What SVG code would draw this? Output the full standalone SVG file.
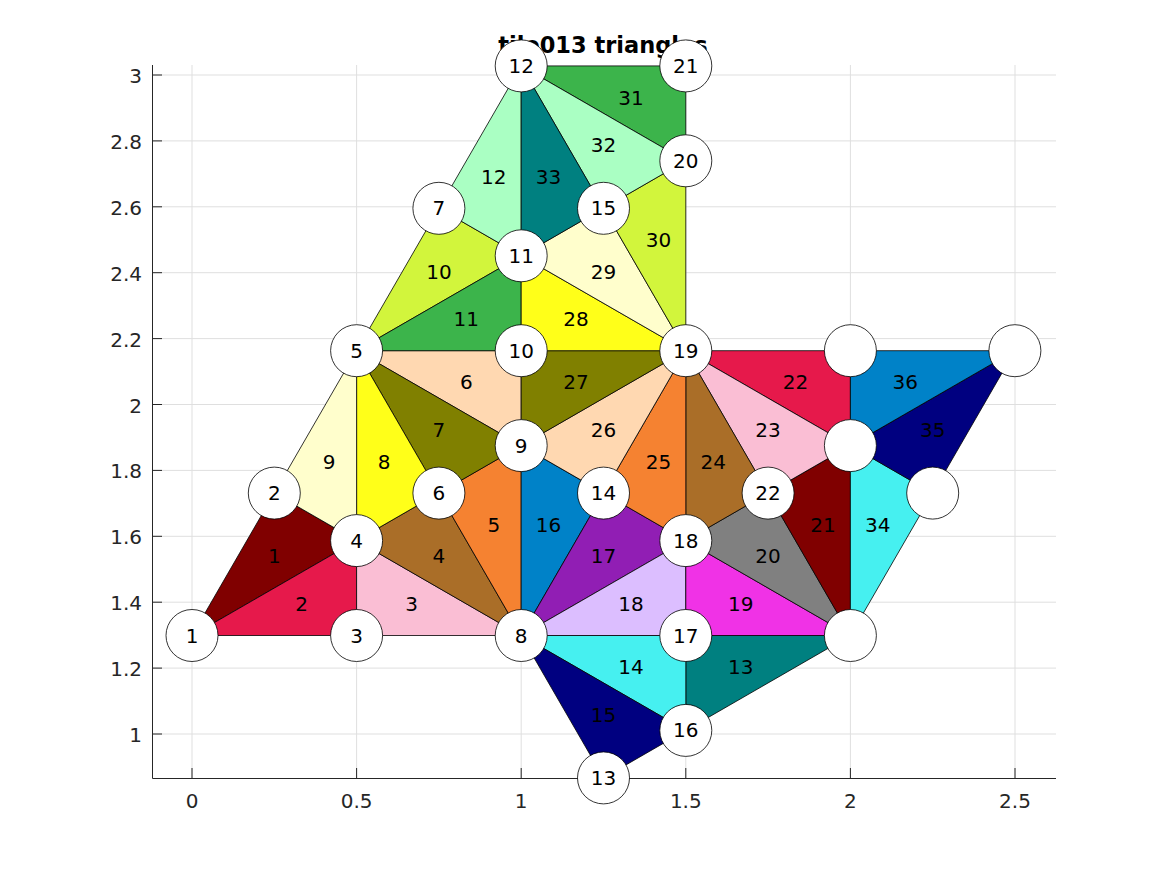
<svg xmlns="http://www.w3.org/2000/svg" width="1167" height="875" viewBox="0 0 1167 875">
<style>
.grid{stroke:#dfdfdf;stroke-width:1;fill:none}
.axis{stroke:#262626;stroke-width:1;fill:none}
.tk{font-family:"DejaVu Sans",sans-serif;font-size:20px;fill:#262626}
.tri{stroke:#000;stroke-width:0.8;stroke-linejoin:round}
.tl{font-family:"DejaVu Sans",sans-serif;font-size:20px;fill:#000;text-anchor:middle}
.node circle{fill:#fff;stroke:#000;stroke-width:0.8}
.node text{font-family:"DejaVu Sans",sans-serif;font-size:20px;fill:#000;text-anchor:middle}
.title{font-family:"DejaVu Sans",sans-serif;font-size:22.5px;font-weight:bold;fill:#000;text-anchor:middle}
</style>
<rect width="1167" height="875" fill="#fff"/>
<g id="grid">
<path class="grid" d="M192,65V778M356.6,65V778M521.2,65V778M685.8,65V778M850.4,65V778M1015,65V778"/>
<path class="grid" d="M152,75H1056M152,140.9H1056M152,206.8H1056M152,272.7H1056M152,338.6H1056M152,404.5H1056M152,470.4H1056M152,536.3H1056M152,602.2H1056M152,668.1H1056M152,734H1056"/>
</g>
<g id="axes">
<path class="axis" d="M152.5,65V778.5H1056"/>
<path class="axis" d="M192,778V768M356.6,778V768M521.2,778V768M685.8,778V768M850.4,778V768M1015,778V768"/>
<path class="axis" d="M152,75H162M152,140.9H162M152,206.8H162M152,272.7H162M152,338.6H162M152,404.5H162M152,470.4H162M152,536.3H162M152,602.2H162M152,668.1H162M152,734H162"/>
<g class="tk" text-anchor="middle">
<text x="192" y="808">0</text><text x="356.6" y="808">0.5</text><text x="521.2" y="808">1</text><text x="685.8" y="808">1.5</text><text x="850.4" y="808">2</text><text x="1015" y="808">2.5</text>
</g>
<g class="tk" text-anchor="end">
<text x="142" y="83">3</text><text x="142" y="148.9">2.8</text><text x="142" y="214.8">2.6</text><text x="142" y="280.7">2.4</text><text x="142" y="346.6">2.2</text><text x="142" y="412.5">2</text><text x="142" y="478.4">1.8</text><text x="142" y="544.3">1.6</text><text x="142" y="610.2">1.4</text><text x="142" y="676.1">1.2</text><text x="142" y="742">1</text>
</g>
</g>
<g id="triangles">
<polygon class="tri" fill="#800000" points="192,635.5 274.3,493.1 356.6,540.6"/>
<polygon class="tri" fill="#E6194B" points="192,635.5 356.6,540.6 356.6,635.5"/>
<polygon class="tri" fill="#FABED4" points="356.6,635.5 356.6,540.6 521.2,635.5"/>
<polygon class="tri" fill="#AA6E28" points="356.6,540.6 438.9,493.1 521.2,635.5"/>
<polygon class="tri" fill="#F58231" points="438.9,493.1 521.2,445.6 521.2,635.5"/>
<polygon class="tri" fill="#FFD8B1" points="356.6,350.7 521.2,350.7 521.2,445.6"/>
<polygon class="tri" fill="#808000" points="356.6,350.7 521.2,445.6 438.9,493.1"/>
<polygon class="tri" fill="#FFFF19" points="356.6,350.7 438.9,493.1 356.6,540.6"/>
<polygon class="tri" fill="#FFFECC" points="274.3,493.1 356.6,350.7 356.6,540.6"/>
<polygon class="tri" fill="#D2F53C" points="356.6,350.7 438.9,208.3 521.2,255.8"/>
<polygon class="tri" fill="#3CB44B" points="356.6,350.7 521.2,255.8 521.2,350.7"/>
<polygon class="tri" fill="#AAFFC3" points="438.9,208.3 521.2,65.9 521.2,255.8"/>
<polygon class="tri" fill="#008080" points="685.8,635.5 850.4,635.5 685.8,730.4"/>
<polygon class="tri" fill="#46F0F0" points="521.2,635.5 685.8,635.5 685.8,730.4"/>
<polygon class="tri" fill="#000080" points="521.2,635.5 685.8,730.4 603.5,777.9"/>
<polygon class="tri" fill="#0082C8" points="521.2,635.5 521.2,445.6 603.5,493.1"/>
<polygon class="tri" fill="#911EB4" points="521.2,635.5 603.5,493.1 685.8,540.6"/>
<polygon class="tri" fill="#DCBEFF" points="521.2,635.5 685.8,540.6 685.8,635.5"/>
<polygon class="tri" fill="#F032E6" points="685.8,635.5 685.8,540.6 850.4,635.5"/>
<polygon class="tri" fill="#808080" points="685.8,540.6 768.1,493.1 850.4,635.5"/>
<polygon class="tri" fill="#800000" points="768.1,493.1 850.4,445.6 850.4,635.5"/>
<polygon class="tri" fill="#E6194B" points="685.8,350.7 850.4,350.7 850.4,445.6"/>
<polygon class="tri" fill="#FABED4" points="685.8,350.7 850.4,445.6 768.1,493.1"/>
<polygon class="tri" fill="#AA6E28" points="685.8,350.7 768.1,493.1 685.8,540.6"/>
<polygon class="tri" fill="#F58231" points="685.8,350.7 685.8,540.6 603.5,493.1"/>
<polygon class="tri" fill="#FFD8B1" points="521.2,445.6 685.8,350.7 603.5,493.1"/>
<polygon class="tri" fill="#808000" points="521.2,350.7 685.8,350.7 521.2,445.6"/>
<polygon class="tri" fill="#FFFF19" points="521.2,350.7 521.2,255.8 685.8,350.7"/>
<polygon class="tri" fill="#FFFECC" points="521.2,255.8 603.5,208.3 685.8,350.7"/>
<polygon class="tri" fill="#D2F53C" points="603.5,208.3 685.8,160.8 685.8,350.7"/>
<polygon class="tri" fill="#3CB44B" points="521.2,65.9 685.8,65.9 685.8,160.8"/>
<polygon class="tri" fill="#AAFFC3" points="521.2,65.9 685.8,160.8 603.5,208.3"/>
<polygon class="tri" fill="#008080" points="521.2,65.9 603.5,208.3 521.2,255.8"/>
<polygon class="tri" fill="#46F0F0" points="850.4,445.6 932.7,493.1 850.4,635.5"/>
<polygon class="tri" fill="#000080" points="850.4,445.6 1014.9,350.7 932.7,493.1"/>
<polygon class="tri" fill="#0082C8" points="850.4,350.7 1014.9,350.7 850.4,445.6"/>
</g>
<g id="triangle-labels" class="tl">
<text x="274.3" y="563.4">1</text>
<text x="301.7" y="610.9">2</text>
<text x="411.5" y="610.9">3</text>
<text x="438.9" y="563.4">4</text>
<text x="493.8" y="531.7">5</text>
<text x="466.3" y="389.3">6</text>
<text x="438.9" y="436.8">7</text>
<text x="384" y="468.5">8</text>
<text x="329.2" y="468.5">9</text>
<text x="438.9" y="278.6">10</text>
<text x="466.3" y="326.1">11</text>
<text x="493.8" y="183.7">12</text>
<text x="740.7" y="674.1">13</text>
<text x="630.9" y="674.1">14</text>
<text x="603.5" y="721.6">15</text>
<text x="548.6" y="531.7">16</text>
<text x="603.5" y="563.4">17</text>
<text x="630.9" y="610.9">18</text>
<text x="740.7" y="610.9">19</text>
<text x="768.1" y="563.4">20</text>
<text x="823" y="531.7">21</text>
<text x="795.5" y="389.3">22</text>
<text x="768.1" y="436.8">23</text>
<text x="713.2" y="468.5">24</text>
<text x="658.4" y="468.5">25</text>
<text x="603.5" y="436.8">26</text>
<text x="576.1" y="389.3">27</text>
<text x="576.1" y="326.1">28</text>
<text x="603.5" y="278.6">29</text>
<text x="658.4" y="246.9">30</text>
<text x="631" y="104.5">31</text>
<text x="603.5" y="152">32</text>
<text x="548.6" y="183.7">33</text>
<text x="877.8" y="531.7">34</text>
<text x="932.7" y="436.8">35</text>
<text x="905.2" y="389.3">36</text>
</g>
<text class="title" x="603" y="53">tile013 triangles</text>
<g id="nodes">
<g id="n1" class="node"><circle cx="192" cy="635.5" r="26"/><text x="192" y="642.5">1</text></g>
<g id="n2" class="node"><circle cx="274.3" cy="493.1" r="26"/><text x="274.3" y="500.1">2</text></g>
<g id="n3" class="node"><circle cx="356.6" cy="635.5" r="26"/><text x="356.6" y="642.5">3</text></g>
<g id="n4" class="node"><circle cx="356.6" cy="540.6" r="26"/><text x="356.6" y="547.6">4</text></g>
<g id="n5" class="node"><circle cx="356.6" cy="350.7" r="26"/><text x="356.6" y="357.7">5</text></g>
<g id="n6" class="node"><circle cx="438.9" cy="493.1" r="26"/><text x="438.9" y="500.1">6</text></g>
<g id="n7" class="node"><circle cx="438.9" cy="208.3" r="26"/><text x="438.9" y="215.3">7</text></g>
<g id="n8" class="node"><circle cx="521.2" cy="635.5" r="26"/><text x="521.2" y="642.5">8</text></g>
<g id="n9" class="node"><circle cx="521.2" cy="445.6" r="26"/><text x="521.2" y="452.6">9</text></g>
<g id="n10" class="node"><circle cx="521.2" cy="350.7" r="26"/><text x="521.2" y="357.7">10</text></g>
<g id="n11" class="node"><circle cx="521.2" cy="255.8" r="26"/><text x="521.2" y="262.8">11</text></g>
<g id="n12" class="node"><circle cx="521.2" cy="65.9" r="26"/><text x="521.2" y="72.9">12</text></g>
<g id="n13" class="node"><circle cx="603.5" cy="777.9" r="26"/><text x="603.5" y="784.9">13</text></g>
<g id="n14" class="node"><circle cx="603.5" cy="493.1" r="26"/><text x="603.5" y="500.1">14</text></g>
<g id="n15" class="node"><circle cx="603.5" cy="208.3" r="26"/><text x="603.5" y="215.3">15</text></g>
<g id="n16" class="node"><circle cx="685.8" cy="730.4" r="26"/><text x="685.8" y="737.4">16</text></g>
<g id="n17" class="node"><circle cx="685.8" cy="635.5" r="26"/><text x="685.8" y="642.5">17</text></g>
<g id="n18" class="node"><circle cx="685.8" cy="540.6" r="26"/><text x="685.8" y="547.6">18</text></g>
<g id="n19" class="node"><circle cx="685.8" cy="350.7" r="26"/><text x="685.8" y="357.7">19</text></g>
<g id="n20" class="node"><circle cx="685.8" cy="160.8" r="26"/><text x="685.8" y="167.8">20</text></g>
<g id="n21" class="node"><circle cx="685.8" cy="65.9" r="26"/><text x="685.8" y="72.9">21</text></g>
<g id="n22" class="node"><circle cx="768.1" cy="493.1" r="26"/><text x="768.1" y="500.1">22</text></g>
<g id="nA" class="node"><circle cx="850.4" cy="350.7" r="26"/></g>
<g id="nB" class="node"><circle cx="850.4" cy="445.6" r="26"/></g>
<g id="nC" class="node"><circle cx="1014.9" cy="350.7" r="26"/></g>
<g id="nD" class="node"><circle cx="932.7" cy="493.1" r="26"/></g>
<g id="nE" class="node"><circle cx="850.4" cy="635.5" r="26"/></g>
</g>
</svg>
